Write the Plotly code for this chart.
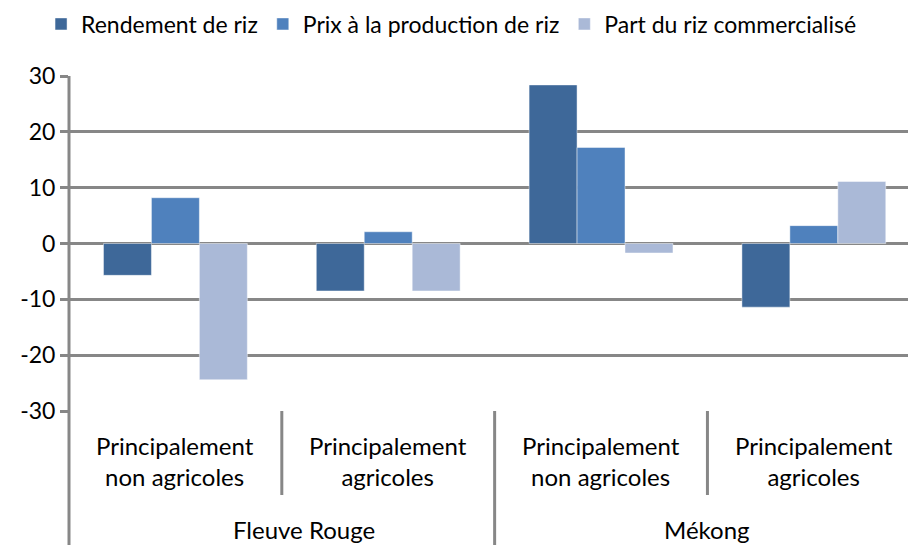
import plotly.graph_objects as go

# ---- data ----
regions = ["Fleuve Rouge", "Fleuve Rouge", "Mékong", "Mékong"]
groups = ["Principalement<br>non agricoles", "Principalement<br>agricoles",
          "Principalement<br>non agricoles", "Principalement<br>agricoles"]
series_names = ["Rendement de riz", "Prix à la production de riz", "Part du riz commercialisé"]
rendement = [-5.7, -8.5, 28.4, -11.4]
prix = [8.2, 2.1, 17.2, 3.2]
part = [-24.4, -8.5, -1.7, 11.1]
y_ticks = [-30, -20, -10, 0, 10, 20, 30]
y_ticktext = ["-30", "-20", "-10", "0", "10", "20", "30"]

colors = ["#3E6899", "#4F81BD", "#AAB9D7"]
FONT = "Lato"
GRID = "#878787"

OFF = 8  # default page body margin
W, H = 916 - OFF, 545 - OFF
ML, MR, MT, MB = 69 - OFF, 0, 76 - OFF, 134
plot_h = H - MT - MB


def py(pix):
    """page pixel row -> paper y"""
    return (H - MB - (pix - OFF)) / plot_h


cats = [f"{r}|{g}" for r, g in zip(regions, groups)]

fig = go.Figure()
for name, vals, col in zip(series_names, [rendement, prix, part], colors):
    fig.add_trace(go.Bar(
        x=cats, y=vals, name=name,
        marker=dict(color=col, line=dict(color="rgba(255,255,255,0.45)", width=1)),
    ))

shapes = []
shapes.append(dict(type="line", xref="paper", yref="paper", x0=0, x1=0,
                   y0=1, y1=py(545), line=dict(color=GRID, width=3)))
n = len(cats)
for i in range(1, n):
    outer = regions[i] != regions[i - 1]
    shapes.append(dict(type="line", xref="x", yref="paper", x0=i - 0.5, x1=i - 0.5,
                       y0=0, y1=py(545 if outer else 495),
                       line=dict(color=GRID, width=3)))

annotations = []
for c, g in zip(cats, groups):
    annotations.append(dict(x=c, xref="x", y=py(461), yref="paper", text=g,
                            showarrow=False, yanchor="middle",
                            font=dict(family=FONT, size=24, color="black")))
seen = []
for i, r in enumerate(regions):
    if r in seen:
        continue
    seen.append(r)
    idx = [j for j, rr in enumerate(regions) if rr == r]
    center = (idx[0] + idx[-1]) / 2
    annotations.append(dict(x=center, xref="x", y=py(529), yref="paper", text=r,
                            showarrow=False, yanchor="middle",
                            xshift=22 if i == 0 else 0,
                            font=dict(family=FONT, size=24, color="black")))

fig.update_layout(
    width=W, height=H,
    margin=dict(l=ML, r=MR, t=MT, b=MB, autoexpand=False),
    paper_bgcolor="white", plot_bgcolor="white",
    barmode="group", bargap=0.324, bargroupgap=0,
    font=dict(family=FONT, size=23, color="black"),
    showlegend=True,
    legend=dict(orientation="h", x=-0.033, xanchor="left", y=py(24), yanchor="middle",
                font=dict(family=FONT, size=23, color="black"),
                itemwidth=30, traceorder="normal", bgcolor="rgba(0,0,0,0)"),
    shapes=shapes,
    annotations=annotations,
)
fig.update_xaxes(type="category", range=[-0.5, n - 0.52], showticklabels=False,
                 showgrid=False, zeroline=False, showline=False, ticks="")
fig.update_yaxes(range=[-30, 30], tickvals=y_ticks, ticktext=y_ticktext,
                 showgrid=True, gridcolor=GRID,
                 gridwidth=3, zeroline=True, zerolinecolor=GRID, zerolinewidth=3,
                 ticks="outside", ticklen=8, tickwidth=3, tickcolor=GRID,
                 showline=False, tickfont=dict(family=FONT, size=23, color="black"))

fig.write_html("out.html")
